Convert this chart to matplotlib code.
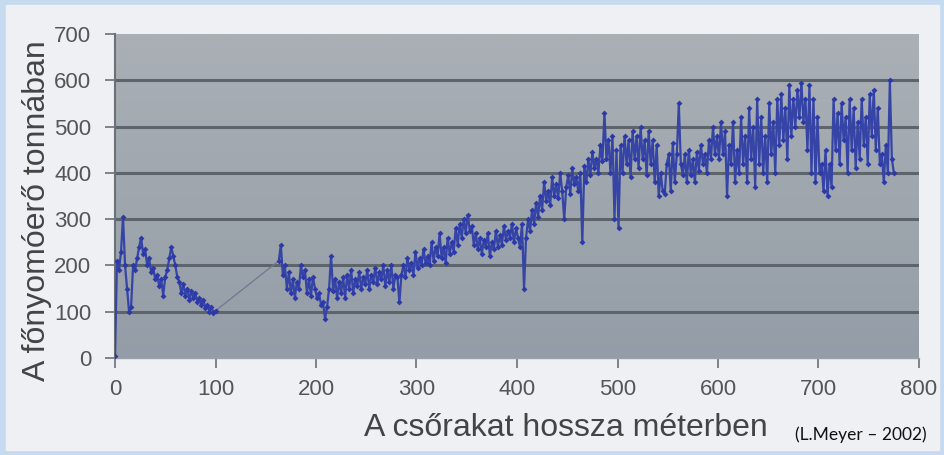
import numpy as np
import matplotlib
matplotlib.use('Agg')
import matplotlib.pyplot as plt
from matplotlib.patches import Rectangle

# first stretch, sampled every 2 m (0..100 m)
x_first = np.arange(0, 101, 2)
y_first = [5, 210, 190, 230, 305, 200, 150, 100, 110, 200,
           190, 215, 240, 260, 225, 235, 200, 215, 185, 195,
           170, 180, 155, 170, 135, 175, 190, 215, 240, 220,
           200, 175, 165, 140, 160, 135, 150, 125, 145, 130,
           140, 120, 130, 115, 125, 108, 115, 100, 110, 98,
           102]

# second stretch, sampled every 2 m (163..775 m)
x_second = np.arange(163, 776, 2)
y_second = [210, 245, 180, 200, 150, 185, 140, 170, 130, 165,
            150, 200, 175, 190, 140, 170, 135, 175, 150, 130,
            140, 115, 120, 85, 110, 150, 220, 145, 170, 130,
            165, 140, 175, 130, 180, 150, 190, 140, 170, 155,
            185, 150, 175, 160, 190, 150, 180, 165, 195, 160,
            185, 170, 200, 155, 190, 165, 200, 150, 180, 175,
            120, 180, 200, 175, 215, 190, 205, 180, 230, 195,
            215, 200, 235, 205, 220, 200, 250, 210, 240, 220,
            270, 215, 240, 205, 260, 225, 250, 230, 280, 245,
            290, 260, 300, 270, 310, 275, 285, 245, 270, 235,
            260, 225, 255, 240, 270, 220, 250, 235, 275, 240,
            265, 245, 285, 255, 275, 260, 290, 250, 280, 260,
            240, 290, 150, 260, 300, 275, 320, 290, 335, 305,
            350, 320, 380, 340, 360, 330, 390, 350, 375, 345,
            400, 360, 300, 370, 395, 355, 410, 375, 390, 360,
            400, 250, 415, 380, 430, 395, 445, 410, 430, 400,
            460, 425, 530, 430, 470, 400, 480, 300, 450, 280,
            460, 400, 480, 420, 470, 390, 490, 430, 480, 410,
            500, 430, 470, 395, 490, 420, 470, 380, 460, 350,
            400, 360, 355, 420, 440, 360, 465, 380, 440, 550,
            420, 395, 440, 380, 450, 395, 430, 380, 445, 405,
            460, 420, 440, 400, 470, 430, 500, 440, 480, 430,
            510, 440, 490, 350, 460, 420, 510, 380, 450, 400,
            520, 420, 480, 380, 540, 430, 500, 370, 560, 420,
            520, 400, 480, 380, 550, 440, 510, 400, 560, 460,
            570, 470, 540, 430, 590, 480, 560, 500, 580, 520,
            595, 510, 560, 450, 590, 400, 560, 380, 520, 400,
            420, 360, 450, 350, 420, 370, 560, 450, 530, 420,
            550, 470, 520, 400, 560, 450, 540, 410, 510, 430,
            560, 460, 520, 420, 570, 480, 580, 450, 540, 420,
            440, 380, 460, 400, 600, 430, 400]

W, H = 944, 455
fig = plt.figure(figsize=(W / 100, H / 100), dpi=100, facecolor='#c6daf0')
fig.patches.append(Rectangle((6 / W, 5 / H), 933 / W, 445 / H,
                             transform=fig.transFigure, color='#eef0f3', zorder=-10))

ax = fig.add_axes([115 / W, (H - 358) / H, (919 - 115) / W, (358 - 34) / H])
ax.set_xlim(0, 800)
ax.set_ylim(0, 700)

# soft vertical gradient in the plot area
grad = np.linspace(0, 1, 256).reshape(-1, 1)
ax.imshow(grad, extent=[0, 800, 0, 700], aspect='auto', origin='lower',
          cmap=matplotlib.colors.LinearSegmentedColormap.from_list('bg', ['#949da7', '#aab0b5']),
          zorder=0)

for v in range(100, 700, 100):
    ax.axhline(v, color='#5d646b', lw=2.2, zorder=1)

# thin gray connector across the missing stretch
ax.plot([x_first[-1], x_second[0]], [y_first[-1], y_second[0]],
        color='#6f7890', lw=0.9, zorder=2)
for xs, ys in [(x_first, y_first), (x_second, y_second)]:
    ax.plot(xs, ys, color='#3645a5', lw=1.6, zorder=3, solid_joinstyle='miter')
    ax.plot(xs, ys, ls='none', marker='D', ms=3.0, mec='none', mfc='#2c39a8', zorder=4)

for s in ['top', 'right']:
    ax.spines[s].set_visible(False)
ax.spines['left'].set_color('#6b7177')
ax.spines['left'].set_linewidth(1.5)
ax.spines['bottom'].set_color('#9aa0a6')
ax.spines['bottom'].set_linewidth(1.0)

ax.set_xticks(range(0, 801, 100))
ax.set_yticks(range(0, 701, 100))
ax.tick_params(axis='both', colors='#6b7177', length=7, width=1.2,
               labelcolor='#555555', labelsize=16)
ax.tick_params(axis='y', pad=10)
ax.tick_params(axis='x', pad=8)
for lab in ax.get_xticklabels() + ax.get_yticklabels():
    lab.set_family('Liberation Sans')

fig.text(566 / W, (H - 428) / H, 'A csőrakat hossza méterben', ha='center', va='center',
         fontsize=23, color='#444444', family='Liberation Sans')
fig.text(37 / W, (H - 211) / H, 'A főnyomóerő tonnában', ha='center', va='center',
         rotation=90, fontsize=23, color='#444444', family='Liberation Sans')
fig.text(795 / W, (H - 440) / H, '(L.Meyer – 2002)', ha='left', va='baseline',
         fontsize=12.5, color='#111111', family='Lato')

plt.savefig('out.png', dpi=100, facecolor=fig.get_facecolor())
